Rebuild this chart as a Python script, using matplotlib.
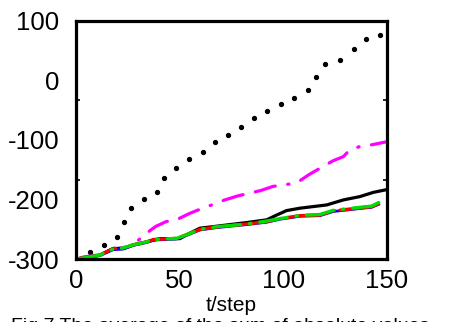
import matplotlib
matplotlib.use("Agg")
import matplotlib.pyplot as plt

plt.rcParams['font.family'] = ['Liberation Sans', 'DejaVu Sans']
plt.rcParams['lines.scale_dashes'] = False
plt.rcParams['axes.unicode_minus'] = False

# data
t_dot = [0, 6.8, 13.5, 19.6, 23.2, 26.4, 32.8, 39, 42.5, 48.3, 54.4, 61.2, 67, 73.4,
         79.8, 86, 92.4, 98.8, 105.3, 111.7, 115.9, 120.2, 127.5, 133.9, 139.7, 146.8]
v_dot = [-300, -288, -277, -263, -238, -214, -199, -188, -164, -147, -132, -120, -103, -92,
         -78, -64, -52, -40, -30, -17, 5, 27, 34, 52, 69, 76]

t_mag = [0, 4, 9, 13, 17, 22, 27, 33, 38.5, 43.5, 49, 55, 60, 65.5, 71.5, 78, 84, 89,
         95, 103, 106.5, 112.5, 118.5, 124, 129, 132, 137, 143, 150]
v_mag = [-300, -296, -294, -290, -284, -281, -278, -259, -245, -237, -233, -223, -216, -209,
         -201, -194, -189, -185, -178, -174, -172, -158, -146, -135, -128, -117, -111, -108, -103]

t_blk = [0, 11.6, 18, 22.8, 27.6, 34.1, 40.5, 50.2, 53.4, 59.8, 69.5, 82.3, 92, 96.8,
         101.6, 108, 121, 129, 137, 143.4, 149]
v_blk = [-300, -293, -282, -282, -276, -271, -265.5, -265.5, -259, -248, -244, -238.6, -234,
         -226, -218.5, -214.5, -209, -200.6, -195, -188, -184]

t_rg = [0, 5, 11.6, 18, 22.8, 27.6, 34.1, 37.3, 48.6, 53.4, 59.8, 67.9, 82.3, 92, 98.4,
        108, 117.7, 124.1, 137, 142.6, 146]
v_red = [-300, -297, -293, -282, -282, -276, -271, -267, -265, -259, -250, -246, -241, -237,
         -232, -227, -226, -219, -214, -212, -207]
v_green = [-300, -297, -293, -283, -281, -276, -271, -267, -265, -259, -250, -245.5, -241, -236,
           -232, -226.5, -225, -218, -213, -211, -205]
v_blue = [-301, -298, -294, -284, -283, -277, -272, -268, -266, -260, -251, -247, -242, -238,
          -233, -228, -227, -220, -215, -213, -208]

fig = plt.figure(figsize=(4.52, 3.22), dpi=100)
ax = fig.add_axes([0.168, 0.195, 0.688, 0.741])

ax.plot(t_dot, v_dot, linestyle='none', marker='o', markersize=2.8, color='black')
ax.plot(t_mag, v_mag, color='#ff00ff', lw=2.3, dashes=(15, 9, 15, 9, 1, 9),
        dash_capstyle='round')
ax.plot(t_blk, v_blk, color='black', lw=2.3)
ax.plot(t_rg, v_blue, color='blue', lw=2.0)
ax.plot(t_rg, v_red, color='#ff0000', lw=2.4, dashes=(30, 4, 1, 4), dash_capstyle='round')
ax.plot(t_rg, v_green, color='#00dd00', lw=2.4, dashes=(20, 6.5, 1, 6.5),
        dash_capstyle='round')

ax.set_xlim(0, 150)
ax.set_ylim(-300, 100)
ax.set_xticks([0, 50, 100, 150])
ax.set_yticks([100, 0, -100, -200, -300])
ax.set_yticks([-33.3, -166.7], minor=True)
ax.set_xticks([50, 100], minor=True)
ax.tick_params(axis='both', which='major', length=0, labelsize=18.5)
ax.tick_params(axis='x', which='major', pad=7)
ax.tick_params(axis='y', which='major', pad=12)
ax.tick_params(axis='both', which='minor', length=3, width=1.2, direction='in',
               top=True, right=True)
for s in ax.spines.values():
    s.set_linewidth(2.3)

ax.set_xlabel('t/step', fontsize=15, labelpad=2)

# caption, clipped by the bottom edge as in the source
fig.text(0.025, 1 - 318 / 322, 'Fig.7 The average of the sum of absolute values',
         fontsize=14, va='top', ha='left')

fig.savefig('out.png', dpi=100)
